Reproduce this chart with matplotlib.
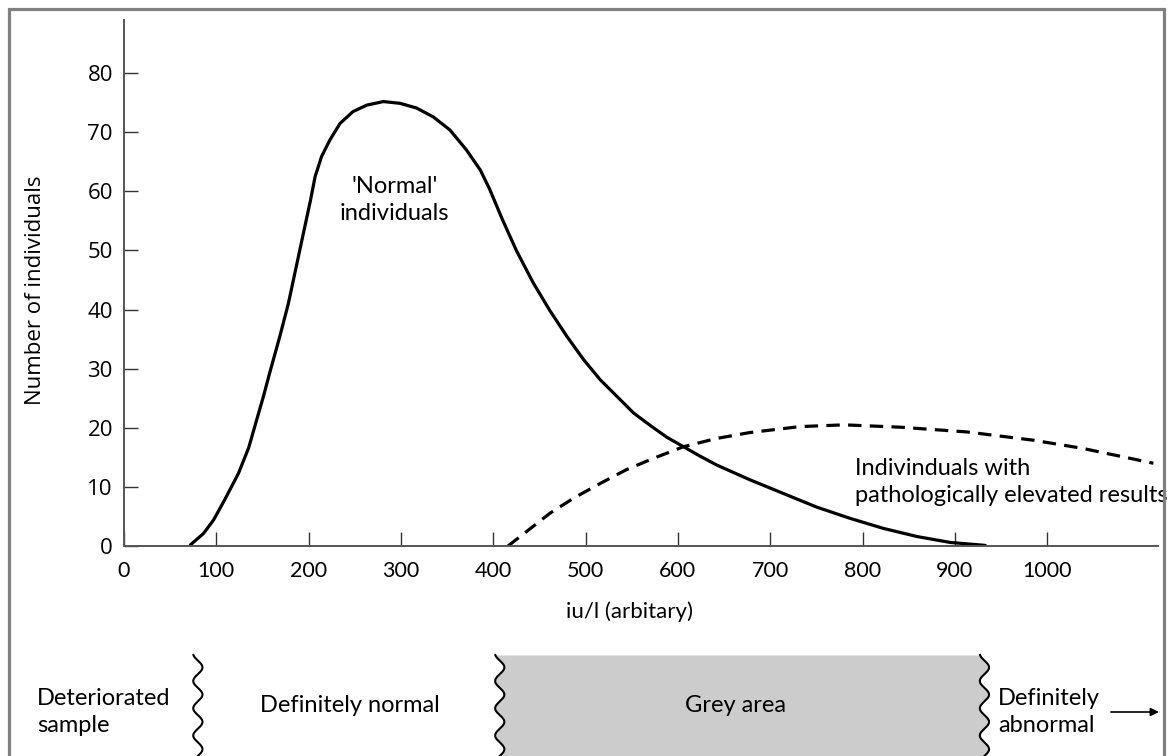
import matplotlib
matplotlib.use("Agg")
import matplotlib.pyplot as plt
import numpy as np
from matplotlib.patches import Rectangle

# ---------------- data ----------------
normal_x = [72, 86, 97, 109, 124, 135, 144, 151, 158, 169, 178, 191, 202, 207, 214, 223,
            234, 248, 263, 281, 299, 317, 335, 353, 371, 386, 396, 410, 425, 443, 461,
            480, 498, 516, 534, 552, 570, 588, 606, 624, 642, 678, 714, 750, 786, 822,
            859, 895, 933]
normal_y = [0.2, 2.1, 4.4, 7.8, 12.3, 16.6, 21.5, 25.3, 29.4, 35.6, 41.0, 50.5, 58.5, 62.5,
            65.9, 68.7, 71.5, 73.5, 74.6, 75.2, 74.9, 74.1, 72.6, 70.4, 67.0, 63.6, 60.4,
            55.2, 50.0, 44.6, 39.9, 35.4, 31.5, 28.1, 25.3, 22.5, 20.4, 18.4, 16.8, 15.2,
            13.7, 11.2, 8.9, 6.6, 4.7, 3.0, 1.6, 0.6, 0.1]

path_x = [416, 443, 461, 487, 516, 544, 573, 606, 642, 678, 732, 780, 841, 913, 985,
          1039, 1115]
path_y = [0, 3.3, 5.5, 8.1, 10.6, 12.9, 14.8, 16.8, 18.2, 19.2, 20.2, 20.5, 20.1, 19.3,
          17.9, 16.5, 14.0]

x_ticks = [0, 100, 200, 300, 400, 500, 600, 700, 800, 900, 1000]
y_ticks = [0, 10, 20, 30, 40, 50, 60, 70, 80]

band_edges = [80, 407, 932]          # x positions of the zone boundaries
zone_labels = ["Deteriorated\nsample", "Definitely normal", "Grey area", "Definitely\nabnormal"]
zone_label_x = [-94, 245, 662, 947]

# ---------------- figure ----------------
W, H = 1170, 756
fig = plt.figure(figsize=(W / 100, H / 100), dpi=100)
FONT = ["Lato", "DejaVu Sans"]
YFONT = ["Open Sans", "DejaVu Sans"]
plt.rcParams['font.family'] = FONT

ax_left, ax_right = 124 / W, 1158 / W
ax_bottom = (H - 546) / H
ax_top = (H - 20) / H
ax = fig.add_axes([ax_left, ax_bottom, ax_right - ax_left, ax_top - ax_bottom])
xmax = 1120
ax.set_xlim(0, xmax)
ax.set_ylim(0, 89)

ax.plot(normal_x, normal_y, color="black", lw=2.3, solid_capstyle="round",
        solid_joinstyle="round")
ax.plot(path_x, path_y, color="black", lw=2.3, linestyle=(0, (4.2, 2.6)))

for s in ["top", "right"]:
    ax.spines[s].set_visible(False)
for s in ["left", "bottom"]:
    ax.spines[s].set_color("#555555")
    ax.spines[s].set_linewidth(1.4)

ax.set_xticks(x_ticks)
ax.set_yticks(y_ticks)
ax.tick_params(axis="both", direction="in", length=10, width=1.0, color="#333333")
ax.tick_params(axis="x", pad=11, labelsize=15.5)
ax.tick_params(axis="y", pad=8, labelsize=16)
for lab in ax.get_yticklabels():
    lab.set_family(YFONT)

ax.set_xlabel("iu/l (arbitary)", fontsize=16)
ax.xaxis.set_label_coords((630 - 124) / 1034, (546 - 601) / 526)
ax.set_ylabel("Number of individuals", fontsize=16, family=YFONT)
ax.yaxis.set_label_coords((46 - 124) / 1034, (546 - 290) / 526)

ax.text(293, 58.5, "'Normal'\nindividuals", ha="center", va="center", fontsize=17,
        linespacing=1.38)
ax.text(792, 10.8, "Indivinduals with\npathologically elevated results", ha="left",
        va="center", fontsize=17, linespacing=1.38)

# ---------------- bottom band ----------------
band_top = 655
bh = H - band_top
bax = fig.add_axes([ax_left, 0, ax_right - ax_left, bh / H])
bax.set_xlim(0, xmax)
bax.set_ylim(0, 1)
bax.axis("off")

yy = np.linspace(-0.05, 1.0, 300)
wiggle = 5.0 * np.sin(2 * np.pi * yy / 0.27)
bax.fill_betweenx(yy, band_edges[1] + wiggle, band_edges[2] + wiggle, color="#cccccc",
                  lw=0, clip_on=False)
for e in band_edges:
    bax.plot(e + wiggle, yy, color="black", lw=1.5, clip_on=False)

y_two = (H - 712) / bh
y_one = (H - 705) / bh
for lab, xp in zip(zone_labels, zone_label_x):
    two = "\n" in lab
    bax.text(xp, y_two if two else y_one, lab, ha="left" if two else "center",
             va="center", fontsize=17, linespacing=1.38, clip_on=False)
bax.annotate("", xy=(1124, y_two), xytext=(1066, y_two), xycoords="data",
             arrowprops=dict(arrowstyle="-|>", color="black", lw=1.2,
                             mutation_scale=12), annotation_clip=False)

# ---------------- outer frame ----------------
fig.add_artist(Rectangle((9 / W, -0.2), (1164 - 9) / W, 1.2 - 9 / H,
                         transform=fig.transFigure, fill=False,
                         edgecolor="#808080", lw=2.3))

fig.savefig("out.png", dpi=100)
